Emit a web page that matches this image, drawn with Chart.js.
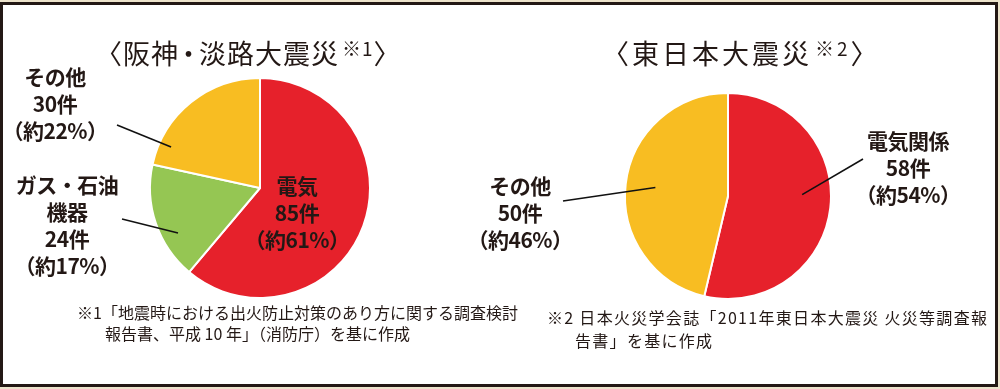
<!DOCTYPE html>
<html lang="ja">

<head>
    <meta charset="UTF-8">
    <title>電気火災の割合</title>
    <script src="https://cdn.jsdelivr.net/npm/chart.js"></script>
    <style>
        body {
            margin: 0;
            width: 1000px;
            height: 389px;
            background: #ece3cb;
            font-family: "Noto Sans CJK JP", "Noto Sans", sans-serif;
            color: #231815;
            overflow: hidden;
        }

        .quadro {
            position: absolute;
            left: 0;
            top: 2px;
            width: 998px;
            height: 385px;
            box-sizing: border-box;
            border: 3px solid #231815;
            background: #fff;
        }

        canvas {
            position: absolute;
            top: 0;
        }

        .titulo {
            position: absolute;
            top: 29px;
            font-size: 27px;
            line-height: 38px;
            white-space: nowrap;
        }

        .titulo small {
            font-size: 19px;
            vertical-align: 8px;
            margin-left: 3px;
        }

        .rotulo {
            position: absolute;
            transform: translateX(-50%);
            text-align: center;
            font-weight: bold;
            font-size: 21px;
            line-height: 27px;
            white-space: pre;
            letter-spacing: -0.5px;
        }

        .nota {
            position: absolute;
            font-size: 16px;
            white-space: nowrap;
        }
    </style>
</head>

<body>
    <div class="quadro"></div>

    <!-- graficos -->
    <canvas id="grafico_hanshin" width="500" height="389" style="left:0"></canvas>
    <canvas id="grafico_higashi" width="500" height="389" style="left:500px"></canvas>

    <!-- titulos -->
    <div class="titulo" style="left:95px; letter-spacing:1px">〈阪神<span style="margin-left:-4px; letter-spacing:-3px">・</span>淡路大震災<small>※1</small>〉</div>
    <div class="titulo" style="left:602px; letter-spacing:3px">〈東日本大震災<small>※2</small>〉</div>

    <!-- rotulos das fatias -->
    <div class="rotulo" id="rot_h0" style="left:297px; top:172px"></div>
    <div class="rotulo" id="rot_h1" style="left:67px; top:171px"></div>
    <div class="rotulo" id="rot_h2" style="left:55px; top:63px"></div>
    <div class="rotulo" id="rot_g0" style="left:908px; top:127px"></div>
    <div class="rotulo" id="rot_g1" style="left:520px; top:172px"></div>

    <!-- notas -->
    <div class="nota" style="left:77px; top:302px; line-height:21px">※1「地震時における出火防止対策のあり方に関する調査検討<br>
        <span style="padding-left:28px">報告書、平成 10 年」（消防庁）を基に作成</span></div>
    <div class="nota" style="left:547px; top:306px; line-height:23px; letter-spacing:1.3px">※2 日本火災学会誌「2011年東日本大震災 火災等調査報<br>
        <span style="padding-left:28px">告書」を基に作成</span></div>

</body>

</html>

<script>

    // 阪神・淡路大震災
    var categoriasHanshin = ['電気', 'ガス・石油\n機器', 'その他'];
    var valoresHanshin = [85, 24, 30];

    // 東日本大震災
    var categoriasHigashi = ['電気関係', 'その他'];
    var valoresHigashi = [58, 50];

    var vermelho = '#e6212b';
    var verde = '#95c653';
    var amarelo = '#f8bd22';

    // linhas de chamada: fatia, posicao dentro do arco e ponta fora (relativa ao centro)
    var linhasHanshin = [
        { indice: 2, fracAngulo: 0.16, fracRaio: 0.89, dx: -143, dy: -63 },
        { indice: 1, fracAngulo: 0.34, fracRaio: 0.85, dx: -138, dy: 31 }
    ];
    var linhasHigashi = [
        { indice: 1, fracAngulo: 0.50, fracRaio: 0.71, dx: -165, dy: 5 },
        { indice: 0, fracAngulo: 0.46, fracRaio: 0.72, dx: 135, dy: -37 }
    ];

    var linhasGuia = {
        id: 'linhasGuia',
        afterDatasetsDraw(chart, args, opts) {
            var ctx = chart.ctx;
            var arcos = chart.getDatasetMeta(0).data;
            ctx.save();
            ctx.strokeStyle = '#111';
            ctx.lineWidth = 1.6;
            (opts.linhas || []).forEach(function (l) {
                var arco = arcos[l.indice];
                var ang = arco.startAngle + (arco.endAngle - arco.startAngle) * l.fracAngulo;
                var r = arco.outerRadius * l.fracRaio;
                ctx.beginPath();
                ctx.moveTo(arco.x + Math.cos(ang) * r, arco.y + Math.sin(ang) * r);
                ctx.lineTo(arco.x + l.dx, arco.y + l.dy);
                ctx.stroke();
            });
            ctx.restore();
        }
    };

    function criarPizza(idCanvas, categorias, valores, cores, padding, linhas) {
        new Chart(document.getElementById(idCanvas), {
            type: 'pie',
            data: {
                labels: categorias,
                datasets: [{
                    data: valores,
                    backgroundColor: cores,
                    borderColor: '#ffffff',
                    borderWidth: 2
                }]
            },
            options: {
                responsive: false,
                animation: false,
                layout: { padding: padding },
                plugins: {
                    legend: { display: false },
                    tooltip: { enabled: false },
                    linhasGuia: { linhas: linhas }
                }
            },
            plugins: [linhasGuia]
        });
    }

    function escreverRotulos(prefixo, categorias, valores) {
        var total = valores.reduce(function (a, b) { return a + b; }, 0);
        for (let i = 0; i < valores.length; i++) {
            var pct = Math.round(valores[i] / total * 100);
            document.getElementById(prefixo + i).textContent =
                categorias[i] + '\n' + valores[i] + '件\n（約' + pct + '%）';
        }
    }

    criarPizza('grafico_hanshin', categoriasHanshin, valoresHanshin, [vermelho, verde, amarelo],
        { left: 149, right: 129, top: 77, bottom: 90 }, linhasHanshin);
    criarPizza('grafico_higashi', categoriasHigashi, valoresHigashi, [vermelho, amarelo],
        { left: 124, right: 168, top: 92, bottom: 89 }, linhasHigashi);

    escreverRotulos('rot_h', categoriasHanshin, valoresHanshin);
    escreverRotulos('rot_g', categoriasHigashi, valoresHigashi);

</script>
